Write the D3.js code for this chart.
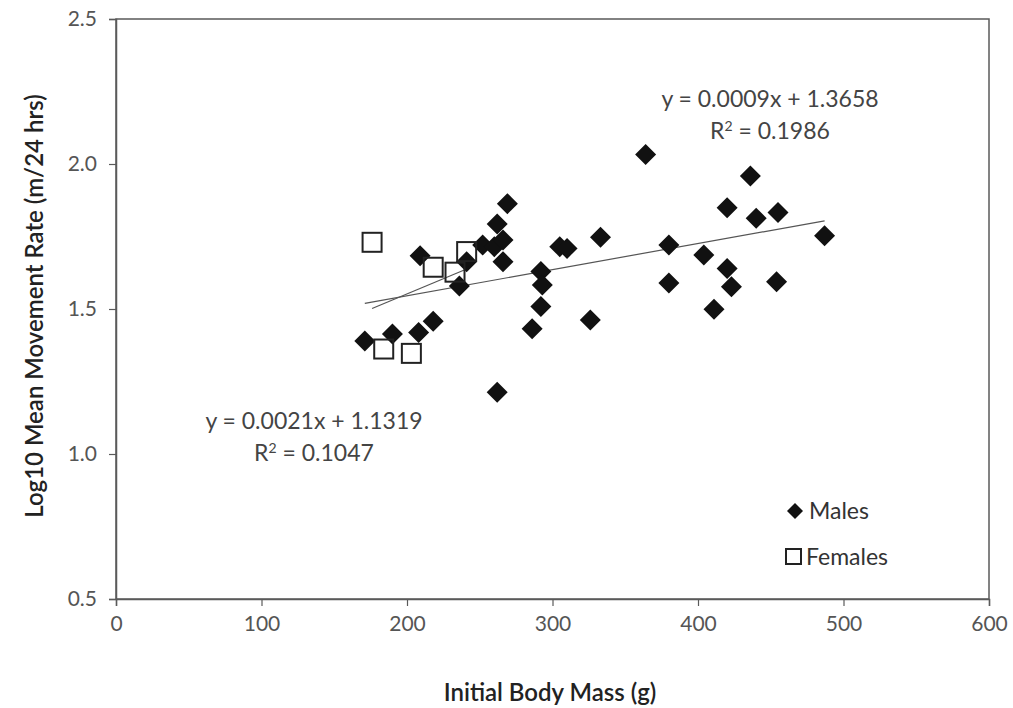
<!DOCTYPE html>
<html>
<head>
<meta charset="utf-8">
<script src="https://cdn.jsdelivr.net/npm/d3@7"></script>
<style>
  body { margin: 0; background: #fff; }
  svg text { font-family: Lato, "Open Sans", sans-serif; }
</style>
</head>
<body>
<svg id="chart" width="1013" height="708"></svg>
<script>
// males: [initial body mass (g), log10 movement rate]
var males = [
  [171, 1.390], [190, 1.414], [208, 1.419], [218, 1.458], [209, 1.684],
  [241, 1.663], [236, 1.579], [252, 1.721], [260, 1.715], [262, 1.793],
  [266, 1.738], [266, 1.663], [269, 1.863], [262, 1.213], [292, 1.629],
  [293, 1.583], [292, 1.509], [286, 1.432], [305, 1.715], [310, 1.709],
  [333, 1.747], [326, 1.462], [364, 2.033], [380, 1.721], [380, 1.590],
  [404, 1.686], [411, 1.499], [420, 1.640], [423, 1.577], [420, 1.849],
  [436, 1.959], [440, 1.813], [455, 1.833], [454, 1.594], [487, 1.753]
]
var females = [
  [176, 1.730], [218, 1.644], [233, 1.627], [241, 1.698], [184, 1.362], [203, 1.347]
]
var xTicks = [0, 100, 200, 300, 400, 500, 600]
var yTicks = [0.5, 1.0, 1.5, 2.0, 2.5]
var maleFit = { slope: 0.0009, icpt: 1.3658, r2: '0.1986' }
var femaleFit = { slope: 0.0021, icpt: 1.1319, r2: '0.1047' }

var svg = d3.select('#chart')
var plotL = 116, plotR = 989, plotT = 19, plotB = 599

var x = d3.scaleLinear().domain([0, 600]).range([plotL, plotR])
var y = d3.scaleLinear().domain([0.5, 2.5]).range([plotB, plotT])

var axisColor = '#5a5a5a'

// frame
svg.append('rect')
  .attr('x', plotL).attr('y', plotT)
  .attr('width', plotR - plotL).attr('height', plotB - plotT)
  .attr('fill', 'none').attr('stroke', axisColor).attr('stroke-width', 1.5)

var xAxis = svg.append('g')
  .attr('transform', 'translate(0,' + plotB + ')')
  .call(d3.axisBottom(x).tickValues(xTicks).tickSize(7).tickPadding(10).tickFormat(d3.format('d')))
var yAxis = svg.append('g')
  .attr('transform', 'translate(' + plotL + ',0)')
  .call(d3.axisLeft(y).tickValues(yTicks).tickSize(7).tickPadding(12).tickFormat(d3.format('.1f')))

;[xAxis, yAxis].forEach(function (g) {
  g.select('.domain').attr('stroke', axisColor).attr('stroke-width', 1.5)
  g.selectAll('.tick line').attr('stroke', axisColor).attr('stroke-width', 1.2)
  g.selectAll('.tick text').attr('fill', '#555').style('font-size', '21px')
})

// axis titles
svg.append('text')
  .attr('x', 550).attr('y', 701)
  .attr('text-anchor', 'middle').attr('fill', '#222')
  .style('font-size', '24px').style('font-weight', 600)
  .text('Initial Body Mass (g)')
svg.append('text')
  .attr('transform', 'translate(43,306) rotate(-90)')
  .attr('text-anchor', 'middle').attr('fill', '#222')
  .style('font-size', '24px').style('font-weight', 600)
  .text('Log10 Mean Movement Rate (m/24 hrs)')

// trend lines over each group's x range
function drawFit (data, fit) {
  var ext = d3.extent(data, function (d) { return d[0] })
  svg.append('line')
    .attr('x1', x(ext[0])).attr('y1', y(fit.slope * ext[0] + fit.icpt))
    .attr('x2', x(ext[1])).attr('y2', y(fit.slope * ext[1] + fit.icpt))
    .attr('stroke', '#555').attr('stroke-width', 1.2)
}
drawFit(males, maleFit)
drawFit(females, femaleFit)

var diamond = 'M0,-10.5L10.5,0L0,10.5L-10.5,0Z'

svg.append('g').selectAll('path')
  .data(males).join('path')
  .attr('d', diamond)
  .attr('transform', function (d) { return 'translate(' + x(d[0]) + ',' + y(d[1]) + ')' })
  .attr('fill', '#111')

svg.append('g').selectAll('rect')
  .data(females).join('rect')
  .attr('x', function (d) { return x(d[0]) - 9.5 })
  .attr('y', function (d) { return y(d[1]) - 9.5 })
  .attr('width', 19).attr('height', 19)
  .attr('fill', 'none').attr('stroke', '#222').attr('stroke-width', 2)

// equations
function eqLabel (cx, cy, fit) {
  svg.append('text')
    .attr('x', cx).attr('y', cy)
    .attr('text-anchor', 'middle').attr('fill', '#444')
    .style('font-size', '23px')
    .text('y = ' + fit.slope.toFixed(4) + 'x + ' + fit.icpt.toFixed(4))
  var r = svg.append('text')
    .attr('x', cx).attr('y', cy + 32)
    .attr('text-anchor', 'middle').attr('fill', '#444')
    .style('font-size', '23px')
  r.append('tspan').text('R')
  r.append('tspan').attr('dy', -8).style('font-size', '14px').text('2')
  r.append('tspan').attr('dy', 8).text(' = ' + fit.r2)
}
eqLabel(770, 107, maleFit)
eqLabel(314, 429, femaleFit)

// legend
var legend = svg.append('g')
legend.append('path').attr('d', 'M0,-8L8,0L0,8L-8,0Z')
  .attr('transform', 'translate(795,511)').attr('fill', '#111')
legend.append('text').attr('x', 809).attr('y', 519)
  .attr('fill', '#333').style('font-size', '23px').text('Males')
legend.append('rect').attr('x', 786).attr('y', 549).attr('width', 15).attr('height', 15)
  .attr('fill', 'none').attr('stroke', '#222').attr('stroke-width', 2)
legend.append('text').attr('x', 806).attr('y', 565)
  .attr('fill', '#333').style('font-size', '23px').text('Females')
</script>
</body>
</html>
